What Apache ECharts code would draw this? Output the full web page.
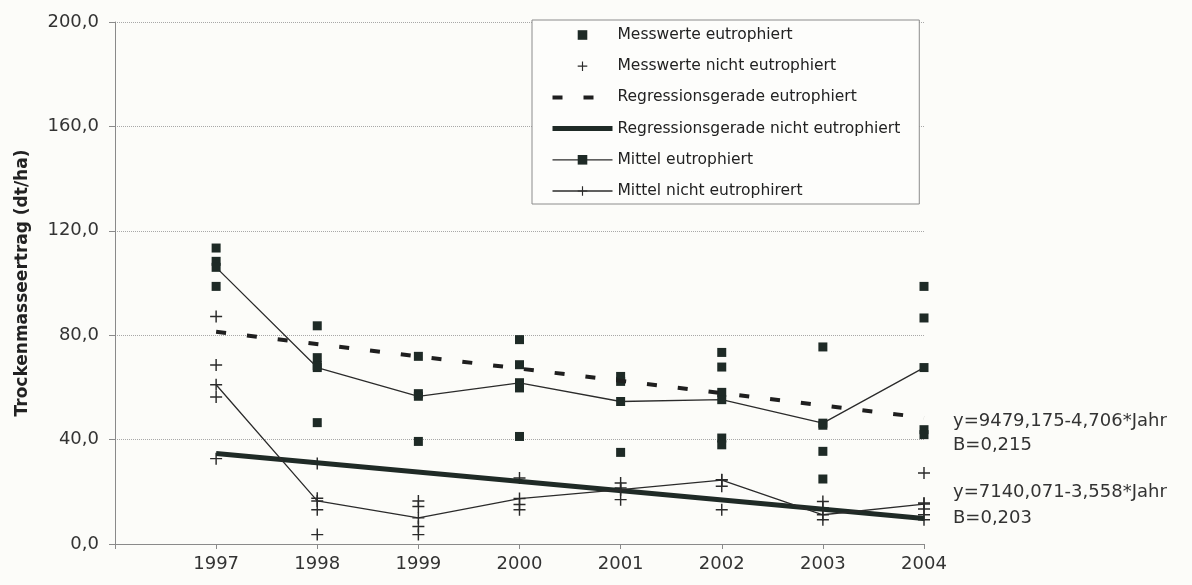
<!DOCTYPE html>
<html>
<head>
<meta charset="utf-8">
<script src="https://cdn.jsdelivr.net/npm/echarts@6/dist/echarts.min.js"></script>
<style>
  html, body { margin: 0; padding: 0; background: #fcfcf9; }
  #chart { width: 1192px; height: 585px; }
</style>
</head>
<body>
<div id="chart"></div>
<script>
// ---- data ----
const years = [1997, 1998, 1999, 2000, 2001, 2002, 2003, 2004];
const yTicks = [0, 40, 80, 120, 160, 200];

// individual measurements, eutrophied (squares), per year
const messEutro = [
  [113.4, 108.3, 98.7],
  [83.6, 71.4, 68.3, 46.5],
  [71.9, 57.6, 39.3],
  [78.3, 68.7, 61.7, 59.8, 41.2],
  [64.2, 62.3, 35.1],
  [73.4, 67.8, 58.1, 40.6, 38.0],
  [75.5, 45.5, 35.5, 24.9],
  [98.7, 86.6, 43.8, 41.9]
];
// individual measurements, not eutrophied (plus), per year
const messNicht = [
  [87.2, 68.6, 56.3, 32.7],
  [30.8, 17.5, 13.1, 3.6],
  [16.5, 14.4, 6.7, 3.6],
  [25.3, 15.1, 13.1],
  [23.4, 21.5, 17.0],
  [24.6, 22.1, 13.1],
  [16.3, 13.8, 9.3],
  [27.2, 15.7, 13.4, 11.2, 9.3]
];
const mittelEutro = [106.0, 67.6, 56.6, 61.7, 54.6, 55.3, 46.3, 67.6];
const mittelNicht = [61.0, 16.5, 10.0, 17.4, 20.8, 24.5, 11.2, 15.3];
const regYears = [1997, 2004];
const regEutro = [81.3, 48.4];
const regNicht = [34.7, 9.8];
const eqEutro = 'y=9479,175-4,706*Jahr\nB=0,215';
const eqNicht = 'y=7140,071-3,558*Jahr\nB=0,203';

const names = [
  'Messwerte eutrophiert',
  'Messwerte nicht eutrophiert',
  'Regressionsgerade eutrophiert',
  'Regressionsgerade nicht eutrophiert',
  'Mittel eutrophiert',
  'Mittel nicht eutrophirert'
];

// ---- build ----
function flatten(arr) {
  const out = [];
  arr.forEach((vals, i) => vals.forEach(v => out.push([years[i], v])));
  return out;
}
const pairs = (xs, ys) => xs.map((x, i) => [x, ys[i]]);

const FONT = 'DejaVu Sans';
const INK = '#1e2a26';
const LINE = '#2b2b2b';
const PLUS = 'path://M4.4,0H5.6V10H4.4Z M0,4.4H10V5.6H0Z';

const chart = echarts.init(document.getElementById('chart'), null, { renderer: 'canvas' });
chart.setOption({
  backgroundColor: '#fcfcf9',
  animation: false,
  textStyle: { fontFamily: FONT },
  grid: { left: 115, right: 268, top: 22, bottom: 41, containLabel: false },
  legend: {
    orient: 'vertical',
    left: 532,
    top: 20,
    padding: [7, 19, 5, 18],
    itemWidth: 60,
    itemHeight: 12,
    itemGap: 15.2,
    borderColor: '#8c8c8c',
    borderWidth: 1,
    backgroundColor: '#fdfdfb',
    selectedMode: false,
    textStyle: { fontFamily: FONT, fontSize: 15.5, color: '#222' },
    data: [
      { name: names[0] },
      { name: names[1] },
      { name: names[2], itemStyle: { opacity: 0 }, lineStyle: { width: 4 } },
      { name: names[3], itemStyle: { opacity: 0 }, lineStyle: { width: 5 } },
      { name: names[4], lineStyle: { width: 1.3 } },
      { name: names[5], lineStyle: { width: 1.3 } }
    ]
  },
  xAxis: {
    type: 'value',
    min: 1996,
    max: 2004,
    interval: 1,
    splitLine: { show: false },
    axisLine: { lineStyle: { color: '#8a8a8a', width: 1 } },
    axisTick: { show: true, length: 5, lineStyle: { color: '#8a8a8a' } },
    axisLabel: {
      margin: 11,
      fontFamily: FONT,
      fontSize: 18,
      color: '#333',
      formatter: v => (years.indexOf(v) >= 0 ? String(v) : '')
    }
  },
  yAxis: {
    type: 'value',
    min: yTicks[0],
    max: yTicks[yTicks.length - 1],
    interval: yTicks[1] - yTicks[0],
    name: 'Trockenmasseertrag (dt/ha)',
    nameLocation: 'middle',
    nameRotate: 90,
    nameGap: 84,
    nameTextStyle: { fontFamily: FONT, fontSize: 17, fontWeight: 'bold', color: '#222' },
    axisLine: { show: true, lineStyle: { color: '#8a8a8a', width: 1 } },
    axisTick: { show: true, length: 6, lineStyle: { color: '#8a8a8a' } },
    axisLabel: {
      margin: 16,
      fontFamily: FONT,
      fontSize: 18,
      color: '#333',
      formatter: v => v.toFixed(1).replace('.', ',')
    },
    splitLine: { show: true, lineStyle: { color: '#a8a8a8', type: 'dotted', width: 1 } }
  },
  series: [
    {
      name: names[0], type: 'line', data: flatten(messEutro),
      symbol: 'rect', symbolSize: 9, showSymbol: true,
      lineStyle: { width: 0 }, itemStyle: { color: INK }, z: 3
    },
    {
      name: names[1], type: 'line', data: flatten(messNicht),
      symbol: PLUS, symbolSize: 12, showSymbol: true,
      lineStyle: { width: 0 }, itemStyle: { color: '#2a2a2a' }, z: 3
    },
    {
      name: names[2], type: 'line', data: pairs(regYears, regEutro),
      symbol: 'none', lineStyle: { color: '#1f1f1f', width: 4, type: [10, 21] },
      itemStyle: { color: '#1f1f1f' }, z: 4,
      endLabel: {
        show: true, formatter: eqEutro, distance: 29, offset: [0, 16],
        fontFamily: FONT, fontSize: 18, lineHeight: 24, color: '#333', align: 'left'
      }
    },
    {
      name: names[3], type: 'line', data: pairs(regYears, regNicht),
      symbol: 'none', lineStyle: { color: '#1f2a26', width: 5 },
      itemStyle: { color: '#1f2a26' }, z: 4,
      endLabel: {
        show: true, formatter: eqNicht, distance: 29, offset: [0, -13],
        fontFamily: FONT, fontSize: 18, lineHeight: 26, color: '#333', align: 'left'
      }
    },
    {
      name: names[4], type: 'line', data: pairs(years, mittelEutro),
      symbol: 'rect', symbolSize: 9, showSymbol: true,
      lineStyle: { color: LINE, width: 1.3 }, itemStyle: { color: INK }, z: 5
    },
    {
      name: names[5], type: 'line', data: pairs(years, mittelNicht),
      symbol: PLUS, symbolSize: 12, showSymbol: true,
      lineStyle: { color: LINE, width: 1.3 }, itemStyle: { color: '#2a2a2a' }, z: 5
    }
  ]
});
</script>
</body>
</html>
